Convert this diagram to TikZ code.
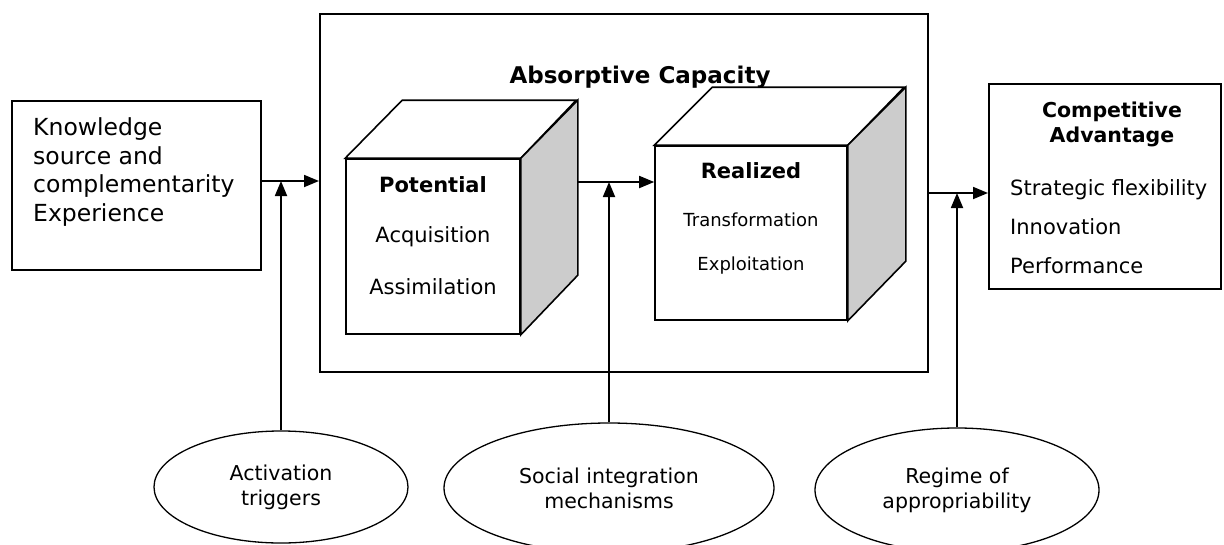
\documentclass[tikz,border=0pt]{standalone}
\usepackage{fontspec}
\setmainfont{DejaVu Sans}
\usetikzlibrary{arrows.meta}
\usetikzlibrary{shapes.geometric}
\usetikzlibrary{positioning}

\begin{document}
\begin{tikzpicture}[x=1pt,y=-1pt,
  box/.style={draw,line width=2pt,inner sep=0pt},
  face/.style={draw,line width=1.6pt,fill=white,inner sep=0pt},
  oval/.style={draw,ellipse,line width=1.3pt,inner sep=0pt,align=center,font=\fontsize{20.5}{25}\selectfont},
  arr/.style={line width=1.8pt,-{Triangle[length=15pt,width=12pt]}},
  txt/.style={inner sep=0pt,align=center,font=\fontsize{21}{25}\selectfont}]
  \useasboundingbox (0,0) rectangle (1224,544);
  \node[box,minimum width=249pt,minimum height=169pt] (src) at (136.5,185.5) {};
  \node[txt,anchor=west,align=left,font=\fontsize{23.5}{28.5}\selectfont] (srctxt) at (33,172) {Knowledge\\source and\\complementarity\\Experience};
  \node[box,minimum width=608pt,minimum height=358pt] (acap) at (624,193) {};
  \node[txt,font=\bfseries\fontsize{23}{28}\selectfont] (acaptxt) at (640,77) {Absorptive Capacity};
  % potential cube
  \node[face,minimum width=174pt,minimum height=175pt] (pot) at (433,246.5) {};
  \draw[line width=1.6pt,fill=white] (pot.north west) -- ++(57,-58) -- ++(174,0) -- (pot.north east) -- cycle;
  \draw[line width=1.6pt,fill=gray!40] (pot.north east) -- ++(57,-58) -- ++(0,175) -- (pot.south east) -- cycle;
  \node[txt,font=\bfseries\fontsize{21}{25}\selectfont] (pothead) at (433,185) {Potential};
  \node[txt] (acq) at (433,237) {Acquisition};
  \node[txt] (ass) at (433,287) {Assimilation};
  % realized cube
  \node[face,minimum width=192pt,minimum height=174pt] (rea) at (751,233) {};
  \draw[line width=1.6pt,fill=white] (rea.north west) -- ++(58,-58) -- ++(192,0) -- (rea.north east) -- cycle;
  \draw[line width=1.6pt,fill=gray!40] (rea.north east) -- ++(58,-58) -- ++(0,174) -- (rea.south east) -- cycle;
  \node[txt,font=\bfseries\fontsize{21}{25}\selectfont] (reahead) at (751,171) {Realized};
  \node[txt,font=\fontsize{18}{22}\selectfont] (trans) at (751,220) {Transformation};
  \node[txt,font=\fontsize{18}{22}\selectfont] (expl) at (751,266) {Exploitation};
  % outcome
  \node[box,minimum width=232pt,minimum height=205pt] (adv) at (1105,186.5) {};
  \node[txt,font=\bfseries\fontsize{20.5}{25}\selectfont] (advhead) at (1112,124.5) {Competitive\\Advantage};
  \node[txt,anchor=west,align=left,font=\fontsize{21}{39}\selectfont] (advlist) at (1010,227) {Strategic flexibility\\Innovation\\Performance};
  % moderators
  \node[oval,minimum width=254pt,minimum height=112pt] (act) at (281,487) {Activation\\triggers};
  \node[oval,minimum width=330pt,minimum height=130pt] (soc) at (609,488) {Social integration\\mechanisms};
  \node[oval,minimum width=284pt,minimum height=124pt] (reg) at (957,490) {Regime of\\appropriability};
  \coordinate (j1) at (281,181);
  \coordinate (j2) at (609,182);
  \coordinate (j3) at (957,193);
  \coordinate (potout) at (577,182);
  \draw[arr] (src.east |- j1) -- (acap.west |- j1);
  \draw[arr] (potout) -- (rea.west |- j2);
  \draw[arr] (acap.east |- j3) -- (adv.west |- j3);
  \draw[arr] (act) -- (j1);
  \draw[arr] (soc) -- (j2);
  \draw[arr] (reg) -- (j3);
\end{tikzpicture}
\end{document}
